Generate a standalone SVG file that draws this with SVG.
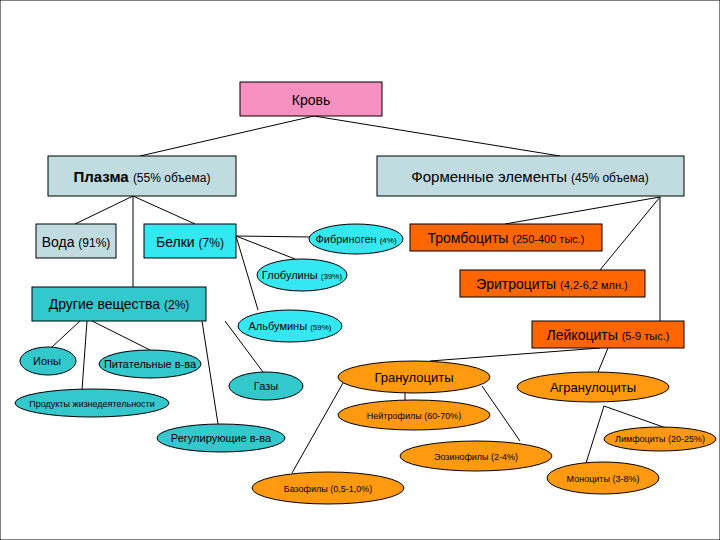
<svg xmlns="http://www.w3.org/2000/svg" width="720" height="540" viewBox="0 0 720 540">
<style>
text{font-family:"Liberation Sans",Arial,sans-serif;fill:#000;text-anchor:middle}
rect,ellipse{stroke:#000;stroke-width:1}
.lb{fill:#c0dce0}.cy{fill:#33e8f0}.tl{fill:#33c8cc}.or{fill:#ff6600}.og{fill:#ff9a10}
.b{font-weight:bold}
#conn line{stroke:#000;stroke-width:1}
</style>
<rect width="720" height="540" fill="#fff" stroke="none"/>
<g id="conn">
<line x1="314" y1="116" x2="140" y2="156"/><line x1="314" y1="116" x2="560" y2="156"/>
<line x1="133" y1="196" x2="75" y2="224"/><line x1="133" y1="196" x2="195" y2="224"/><line x1="133" y1="196" x2="133" y2="287"/>
<line x1="236" y1="236" x2="310" y2="237"/><line x1="236" y1="236" x2="295" y2="259"/><line x1="236" y1="236" x2="258" y2="310"/>
<line x1="660" y1="197" x2="505" y2="224"/><line x1="660" y1="197" x2="600" y2="270"/><line x1="660" y1="197" x2="660" y2="321"/>
<line x1="80" y1="321" x2="52" y2="347"/><line x1="87" y1="321" x2="82" y2="390"/><line x1="92" y1="321" x2="150" y2="350"/>
<line x1="202" y1="321" x2="218" y2="424"/><line x1="225" y1="321" x2="263" y2="372"/>
<line x1="600" y1="348" x2="430" y2="361"/><line x1="608" y1="348" x2="598" y2="372"/>
<line x1="405" y1="392" x2="405" y2="401"/><line x1="482" y1="386" x2="520" y2="441"/><line x1="343" y1="383" x2="292" y2="473"/>
<line x1="604" y1="406" x2="666" y2="428"/><line x1="604" y1="406" x2="586" y2="463"/>
</g>
<g id="krov"><rect x="240" y="82" width="142" height="34" fill="#f590c0"/><text x="311" y="105" font-size="14">Кровь</text></g>
<g id="plazma"><rect class="lb" x="48" y="156" width="188" height="40"/><text x="142" y="182" font-size="15"><tspan class="b" font-size="15" font-weight="normal">Плазма</tspan> <tspan font-size="12">(55% объема)</tspan></text></g>
<g id="formennye"><rect class="lb" x="377" y="156" width="307" height="40"/><text x="530" y="182" font-size="15">Форменные элементы <tspan font-size="12">(45% объема)</tspan></text></g>
<g id="voda"><rect class="lb" x="36" y="224" width="80" height="34"/><text x="76" y="247" font-size="14">Вода <tspan font-size="12">(91%)</tspan></text></g>
<g id="belki"><rect class="cy" x="144" y="224" width="92" height="34"/><text x="190" y="247" font-size="14">Белки <tspan font-size="12">(7%)</tspan></text></g>
<g id="drugie"><rect class="tl" x="32" y="287" width="174" height="34"/><text x="119" y="309" font-size="14">Другие вещества <tspan font-size="12">(2%)</tspan></text></g>
<g id="fibrinogen"><ellipse class="cy" cx="356" cy="239" rx="47" ry="15"/><text x="356" y="243" font-size="11">Фибриноген <tspan font-size="8">(4%)</tspan></text></g>
<g id="globuliny"><ellipse class="cy" cx="302" cy="275" rx="45" ry="16"/><text x="302" y="279" font-size="11">Глобулины <tspan font-size="8">(39%)</tspan></text></g>
<g id="albuminy"><ellipse class="cy" cx="290" cy="326" rx="52" ry="16"/><text x="290" y="330" font-size="11">Альбумины <tspan font-size="8">(59%)</tspan></text></g>
<g id="trombo"><rect class="or" x="410" y="224" width="192" height="27"/><text x="506" y="243" font-size="14" font-weight="normal">Тромбоциты <tspan font-size="11">(250-400 тыс.)</tspan></text></g>
<g id="eritro"><rect class="or" x="460" y="270" width="185" height="27"/><text x="552" y="289" font-size="14">Эритроциты <tspan font-size="11">(4,2-6,2 млн.)</tspan></text></g>
<g id="leiko"><rect class="or" x="532" y="321" width="152" height="27"/><text x="608" y="340" font-size="14">Лейкоциты <tspan font-size="11">(5-9 тыс.)</tspan></text></g>
<g id="iony"><ellipse class="tl" cx="48" cy="361" rx="28" ry="14"/><text x="47" y="365" font-size="11">Ионы</text></g>
<g id="pitat"><ellipse class="tl" cx="150" cy="364" rx="51" ry="14"/><text x="150" y="368" font-size="11">Питательные в-ва</text></g>
<g id="produkty"><ellipse class="tl" cx="92" cy="403" rx="77" ry="14"/><text x="92" y="407" font-size="9">Продукты жизнедеятельности</text></g>
<g id="gazy"><ellipse class="tl" cx="266" cy="386" rx="37" ry="14"/><text x="266" y="390" font-size="11">Газы</text></g>
<g id="regul"><ellipse class="tl" cx="221" cy="438" rx="64" ry="14"/><text x="221" y="442" font-size="11">Регулирующие в-ва</text></g>
<g id="granulo"><ellipse class="og" cx="414" cy="377" rx="76" ry="16"/><text x="414" y="382" font-size="13">Гранулоциты</text></g>
<g id="agranulo"><ellipse class="og" cx="593" cy="387" rx="76" ry="15"/><text x="593" y="392" font-size="13">Агранулоциты</text></g>
<g id="neitro"><ellipse class="og" cx="414" cy="415" rx="76" ry="15"/><text x="414" y="419" font-size="9">Нейтрофилы (60-70%)</text></g>
<g id="eozino"><ellipse class="og" cx="476" cy="456" rx="76" ry="15"/><text x="476" y="460" font-size="9">Эозинофилы (2-4%)</text></g>
<g id="bazo"><ellipse class="og" cx="328" cy="488" rx="76" ry="16"/><text x="328" y="492" font-size="9">Базофилы (0,5-1,0%)</text></g>
<g id="limfo"><ellipse class="og" cx="660" cy="439" rx="56" ry="12"/><text x="660" y="442" font-size="9">Лимфоциты (20-25%)</text></g>
<g id="mono"><ellipse class="og" cx="603" cy="478" rx="56" ry="16"/><text x="603" y="482" font-size="9">Моноциты (3-8%)</text></g>
</svg>
